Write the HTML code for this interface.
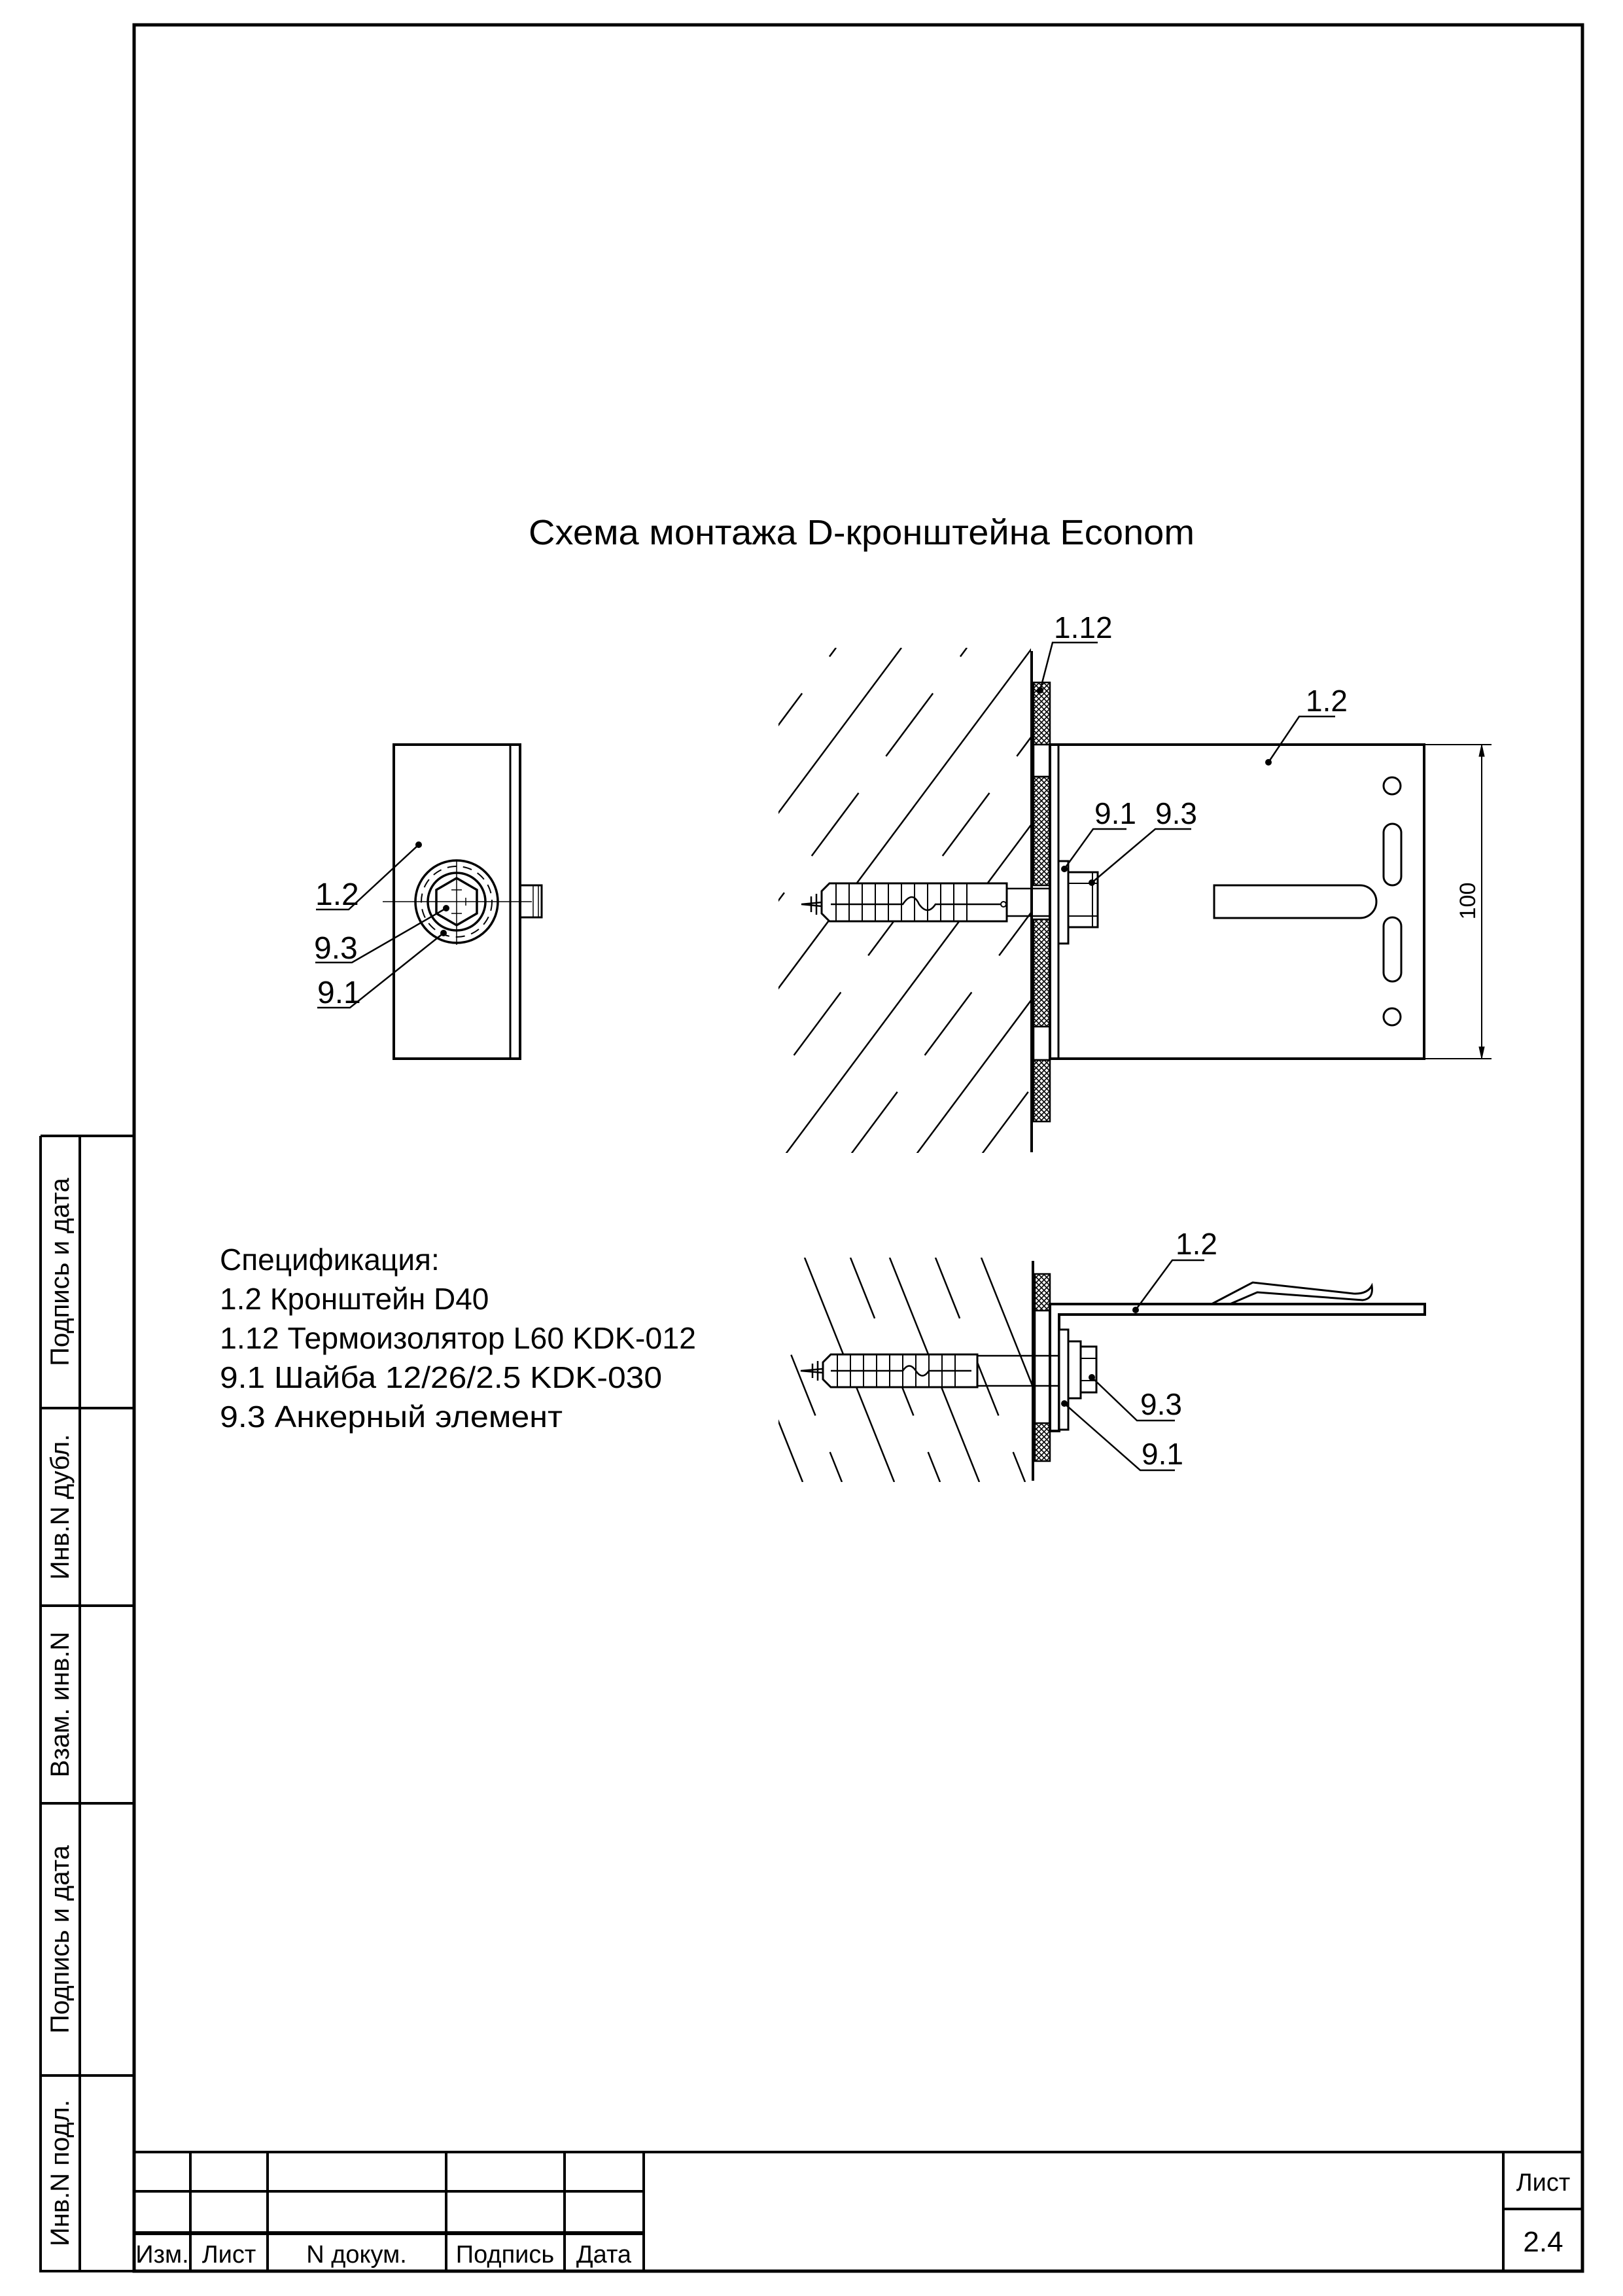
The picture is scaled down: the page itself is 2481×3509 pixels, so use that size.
<!DOCTYPE html>
<html><head><meta charset="utf-8"><style>
html,body{margin:0;padding:0;background:#fff}
svg{display:block}
text{font-family:"Liberation Sans","DejaVu Sans",sans-serif;fill:#000}
</style></head><body>
<svg width="2481" height="3509" viewBox="0 0 2481 3509" xmlns="http://www.w3.org/2000/svg">
<defs>
<pattern id="xh" width="8" height="8" patternUnits="userSpaceOnUse">
<path d="M0 0L8 8M8 0L0 8" stroke="#000" stroke-width="1.6"/>
</pattern>
<clipPath id="c1"><rect x="1190" y="990" width="386" height="772"/></clipPath>
<clipPath id="c2"><rect x="1190" y="1922" width="389" height="343"/></clipPath>
</defs>
<g fill="none" stroke="#000">
<rect x="205" y="38" width="2214" height="3433" stroke-width="5"/>
<path d="M62 1736H205M62 1736V3471H205M122 1736V3471M62 2152H205M62 2454H205M62 2756H205M62 3172H205" stroke-width="4"/>
<path d="M205 3289H2419M205 3349H984M205 3413H984M291 3289V3471M409 3289V3471M682 3289V3471M863 3289V3471M984 3289V3471M2298 3289V3471M2298 3376H2419" stroke-width="4"/>
<path d="M205 3413H984" stroke-width="6"/>
</g>
<g font-size="40">
<text transform="translate(105,1944) rotate(-90)" text-anchor="middle">Подпись и дата</text>
<text transform="translate(105,2303) rotate(-90)" text-anchor="middle">Инв.N дубл.</text>
<text transform="translate(105,2605) rotate(-90)" text-anchor="middle">Взам. инв.N</text>
<text transform="translate(105,2964) rotate(-90)" text-anchor="middle">Подпись и дата</text>
<text transform="translate(105,3321) rotate(-90)" text-anchor="middle">Инв.N подл.</text>
<text x="248" y="3458" text-anchor="middle" font-size="38">Изм.</text>
<text x="350" y="3458" text-anchor="middle" font-size="38">Лист</text>
<text x="545" y="3458" text-anchor="middle" font-size="38">N докум.</text>
<text x="772" y="3458" text-anchor="middle" font-size="38">Подпись</text>
<text x="923" y="3458" text-anchor="middle" font-size="38">Дата</text>
<text x="2359" y="3348" text-anchor="middle" font-size="38">Лист</text>
<text x="2359" y="3441" text-anchor="middle" font-size="44">2.4</text>
</g>
<text x="808" y="832" font-size="54" textLength="1018" lengthAdjust="spacingAndGlyphs">Схема монтажа D-кронштейна Econom</text>
<g font-size="46">
<text x="336" y="1941">Спецификация:</text>
<text x="336" y="2001">1.2  Кронштейн D40</text>
<text x="336" y="2061" textLength="728" lengthAdjust="spacingAndGlyphs">1.12 Термоизолятор L60 KDK-012</text>
<text x="336" y="2121" textLength="676" lengthAdjust="spacingAndGlyphs">9.1  Шайба 12/26/2.5 KDK-030</text>
<text x="336" y="2181" textLength="524" lengthAdjust="spacingAndGlyphs">9.3  Анкерный элемент</text>
</g>

<!-- LEFT VIEW -->
<g fill="none" stroke="#000">
<rect x="602" y="1138" width="193" height="480" stroke-width="4"/>
<line x1="780" y1="1138" x2="780" y2="1618" stroke-width="3"/>
<rect x="795" y="1353" width="33" height="49" stroke-width="3"/>
<path d="M815 1353V1402M823 1353V1402" stroke-width="1.5"/>
<circle cx="698" cy="1378" r="63" stroke-width="3.5"/>
<circle cx="698" cy="1378" r="44" stroke-width="3.5"/>
<circle cx="698" cy="1378" r="54" stroke-width="2" stroke-dasharray="14 10"/>
<polygon points="698,1342 729,1360 729,1396 698,1414 667,1396 667,1360" stroke-width="3.5"/>
<path d="M585 1378H813M698 1314V1444M690 1360H706M690 1396H706M712 1372V1384" stroke-width="1.5"/>
<path d="M483 1390H533L640 1291M482 1471H538L682 1388M485 1540H535L678 1426" stroke-width="2.5"/>
</g>
<circle cx="640" cy="1291" r="5"/><circle cx="682" cy="1388" r="5"/><circle cx="678" cy="1426" r="5"/>
<g font-size="48">
<text x="482" y="1383">1.2</text>
<text x="480" y="1465">9.3</text>
<text x="485" y="1533">9.1</text>
</g>

<!-- FRONT VIEW -->
<g clip-path="url(#c1)" stroke="#000" stroke-width="2.5">
<line x1="600" y1="1765" x2="1178" y2="990"/>
<line x1="700" y1="1765" x2="1278" y2="990" stroke-dasharray="120 70"/>
<line x1="800" y1="1765" x2="1378" y2="990"/>
<line x1="900" y1="1765" x2="1478" y2="990" stroke-dasharray="120 70"/>
<line x1="1000" y1="1765" x2="1578" y2="990"/>
<line x1="1100" y1="1765" x2="1678" y2="990" stroke-dasharray="120 70"/>
<line x1="1200" y1="1765" x2="1778" y2="990"/>
<line x1="1300" y1="1765" x2="1878" y2="990" stroke-dasharray="120 70"/>
<line x1="1400" y1="1765" x2="1978" y2="990"/>
<line x1="1500" y1="1765" x2="2078" y2="990" stroke-dasharray="120 70"/>
</g>
<g stroke="#000" fill="none">
<line x1="1577" y1="995" x2="1577" y2="1761" stroke-width="4"/>
<rect x="1580" y="1043" width="25" height="95" fill="url(#xh)" stroke-width="2.5"/>
<rect x="1580" y="1138" width="25" height="49" fill="#fff" stroke-width="2.5"/>
<rect x="1580" y="1187" width="25" height="166" fill="url(#xh)" stroke-width="2.5"/>
<rect x="1580" y="1405" width="25" height="164" fill="url(#xh)" stroke-width="2.5"/>
<rect x="1580" y="1569" width="25" height="51" fill="#fff" stroke-width="2.5"/>
<rect x="1580" y="1620" width="25" height="94" fill="url(#xh)" stroke-width="2.5"/>
<rect x="1605" y="1138" width="572" height="480" fill="#fff" stroke-width="4"/>
<line x1="1618" y1="1138" x2="1618" y2="1618" stroke-width="3"/>
<circle cx="2128" cy="1201" r="13" stroke-width="3"/>
<circle cx="2128" cy="1554" r="13" stroke-width="3"/>
<rect x="2115" y="1259" width="27" height="94" rx="13.5" stroke-width="3"/>
<rect x="2115" y="1402" width="27" height="98" rx="13.5" stroke-width="3"/>
<path d="M1856 1353H2079A25 25 0 0 1 2079 1403H1856Z" stroke-width="3"/>
<path d="M2177 1138H2280M2177 1618H2280M2265 1138V1618" stroke-width="2"/>
<path d="M2265 1138l-4 18h8zM2265 1618l-4 -18h8z" fill="#000" stroke-width="1"/>
<path d="M1539 1358H1605M1539 1400H1605" stroke-width="2.5"/>
<path d="M1268 1350H1539V1408H1268L1256 1396V1362Z" fill="#fff" stroke-width="3"/>
<path d="M1278 1350V1408M1298 1350V1408M1318 1350V1408M1338 1350V1408M1358 1350V1408M1378 1350V1408M1398 1350V1408M1418 1350V1408M1438 1350V1408M1458 1350V1408M1478 1350V1408" stroke-width="2"/>
<path d="M1270 1382H1380Q1395 1360 1405 1382Q1418 1400 1430 1382H1530" stroke-width="2.5"/>
<circle cx="1534" cy="1382" r="4" stroke-width="2"/>
<path d="M1256 1379L1225 1382L1256 1385M1240 1370V1394M1248 1366V1398" stroke-width="2.5"/>
<rect x="1618" y="1316" width="15" height="126" fill="#fff" stroke-width="3"/>
<rect x="1633" y="1333" width="45" height="84" fill="#fff" stroke-width="3"/>
<path d="M1633 1350H1678M1633 1400H1678M1670 1333V1417" stroke-width="2"/>
<path d="M1678 982H1609L1590 1055M2041 1095H1986L1939 1165M1722 1267H1671L1627 1328M1821 1267H1766L1669 1349" stroke-width="2.5"/>
</g>
<circle cx="1590" cy="1055" r="5"/><circle cx="1939" cy="1165" r="5"/><circle cx="1627" cy="1328" r="5"/><circle cx="1669" cy="1349" r="5"/>
<g font-size="46">
<text x="1611" y="975">1.12</text>
<text x="1996" y="1087">1.2</text>
<text x="1673" y="1259">9.1</text>
<text x="1766" y="1259">9.3</text>
</g>
<text transform="translate(2255,1377) rotate(-90)" text-anchor="middle" font-size="34">100</text>

<!-- BOTTOM VIEW -->
<g clip-path="url(#c2)" stroke="#000" stroke-width="2.5">
<line x1="1150" y1="1922" x2="1287" y2="2265" stroke-dasharray="100 60"/>
<line x1="1230" y1="1922" x2="1367" y2="2265"/>
<line x1="1300" y1="1922" x2="1437" y2="2265" stroke-dasharray="100 60"/>
<line x1="1360" y1="1922" x2="1497" y2="2265"/>
<line x1="1430" y1="1922" x2="1567" y2="2265" stroke-dasharray="100 60"/>
<line x1="1500" y1="1922" x2="1637" y2="2265"/>
<line x1="1090" y1="1922" x2="1227" y2="2265"/>
</g>
<g stroke="#000" fill="none">
<line x1="1579" y1="1927" x2="1579" y2="2263" stroke-width="4"/>
<rect x="1582" y="1947" width="23" height="56" fill="url(#xh)" stroke-width="2.5"/>
<rect x="1582" y="2175" width="23" height="58" fill="url(#xh)" stroke-width="2.5"/>
<path d="M1582 2003V2175" stroke-width="2.5"/>
<path d="M1605 1993H2178V2009H1619V2187H1605Z" fill="#fff" stroke-width="4"/>
<path d="M1852 1993L1915 1960L2069 1977Q2090 1978 2097 1965Q2100 1985 2083 1987L1922 1975L1880 1993" stroke-width="3"/>
<rect x="1619" y="2032" width="14" height="153" fill="#fff" stroke-width="3"/>
<rect x="1633" y="2050" width="19" height="87" fill="#fff" stroke-width="3"/>
<rect x="1652" y="2058" width="24" height="70" fill="#fff" stroke-width="3"/>
<path d="M1652 2076H1676M1652 2110H1676" stroke-width="2"/>
<path d="M1494 2072H1579M1494 2118H1579M1579 2072H1619M1579 2118H1619" stroke-width="2.5"/>
<path d="M1270 2070H1494V2120H1270L1258 2108V2082Z" fill="#fff" stroke-width="3"/>
<path d="M1280 2070V2120M1300 2070V2120M1320 2070V2120M1340 2070V2120M1360 2070V2120M1380 2070V2120M1400 2070V2120M1420 2070V2120M1440 2070V2120M1460 2070V2120" stroke-width="2"/>
<path d="M1270 2095H1380Q1390 2080 1400 2095Q1410 2110 1420 2095H1485" stroke-width="2.5"/>
<path d="M1258 2092L1224 2095L1258 2098M1242 2084V2106M1250 2080V2110" stroke-width="2.5"/>
<path d="M1841 1926H1792L1736 2002M1796 2171H1738L1669 2105M1796 2247H1743L1627 2145" stroke-width="2.5"/>
</g>
<circle cx="1736" cy="2002" r="5"/><circle cx="1669" cy="2105" r="5"/><circle cx="1627" cy="2145" r="5"/>
<g font-size="46">
<text x="1797" y="1917">1.2</text>
<text x="1743" y="2162">9.3</text>
<text x="1745" y="2238">9.1</text>
</g>
</svg>
</body></html>
